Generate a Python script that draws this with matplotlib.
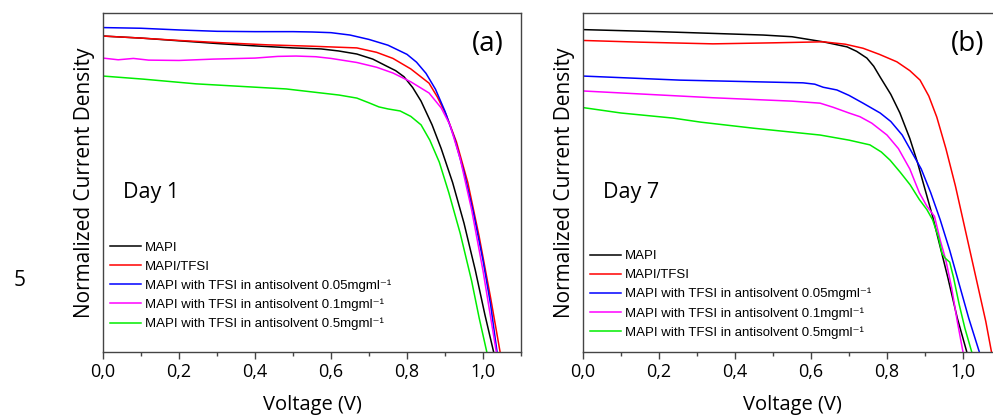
import numpy as np
import matplotlib.pyplot as plt
from matplotlib.ticker import MultipleLocator, FuncFormatter

# J-V curves, normalized current density vs voltage
labels = ['MAPI', 'MAPI/TFSI',
          'MAPI with TFSI in antisolvent 0.05mgml\u207b\u00b9',
          'MAPI with TFSI in antisolvent 0.1mgml\u207b\u00b9',
          'MAPI with TFSI in antisolvent 0.5mgml\u207b\u00b9']
colors = ['black', '#ff0000', '#0000ff', '#ff00ff', '#00ee00']

# Day 1
v1_mapi = [0, 0.1, 0.2, 0.3, 0.4, 0.5, 0.574, 0.62, 0.668, 0.71, 0.745, 0.77, 0.792, 0.815, 0.837, 0.866,
           0.89, 0.92, 0.95, 0.98, 1.005, 1.028]
j1_mapi = [0.932, 0.926, 0.918, 0.910, 0.903, 0.897, 0.894, 0.888, 0.879, 0.864, 0.844, 0.83, 0.812, 0.78, 0.74, 0.670,
           0.60, 0.50, 0.38, 0.24, 0.11, 0.0]
v1_tfsi = [0, 0.1, 0.2, 0.3, 0.434, 0.55, 0.668, 0.72, 0.763, 0.81, 0.858, 0.88, 0.903, 0.93, 0.96, 0.99, 1.02, 1.045]
j1_tfsi = [0.932, 0.926, 0.919, 0.913, 0.906, 0.902, 0.897, 0.884, 0.866, 0.835, 0.793, 0.752, 0.70, 0.62, 0.50, 0.34, 0.16, 0.0]
v1_005 = [0, 0.1, 0.2, 0.3, 0.4, 0.5, 0.55, 0.6, 0.65, 0.7, 0.75, 0.8, 0.825, 0.85, 0.875, 0.9, 0.925, 0.95, 0.975, 1.0,
          1.02, 1.037]
j1_005 = [0.957, 0.955, 0.950, 0.946, 0.945, 0.945, 0.944, 0.942, 0.935, 0.922, 0.905, 0.878, 0.855, 0.822, 0.775, 0.71,
          0.63, 0.53, 0.41, 0.27, 0.14, 0.0]
v1_01 = [0, 0.04, 0.08, 0.12, 0.2, 0.29, 0.4, 0.46, 0.508, 0.56, 0.6, 0.668, 0.72, 0.763, 0.81, 0.858, 0.89, 0.913,
         0.94, 0.97, 1.0, 1.035]
j1_01 = [0.867, 0.862, 0.866, 0.861, 0.860, 0.864, 0.867, 0.872, 0.873, 0.871, 0.866, 0.854, 0.840, 0.823, 0.797, 0.764,
         0.72, 0.670, 0.57, 0.42, 0.24, 0.0]
v1_05 = [0, 0.105, 0.245, 0.482, 0.621, 0.668, 0.7, 0.726, 0.75, 0.782, 0.81, 0.837, 0.86, 0.885, 0.91, 0.94, 0.97, 0.99, 1.01]
j1_05 = [0.814, 0.805, 0.791, 0.776, 0.758, 0.749, 0.735, 0.723, 0.717, 0.711, 0.695, 0.670, 0.625, 0.56, 0.47, 0.35, 0.21,
         0.10, 0.0]

# Day 7
v7_mapi = [0, 0.2, 0.474, 0.55, 0.632, 0.695, 0.72, 0.747, 0.765, 0.782, 0.81, 0.834, 0.86, 0.88, 0.9, 0.92, 0.94, 0.96,
           0.985, 1.01]
j7_mapi = [0.951, 0.945, 0.935, 0.93, 0.915, 0.90, 0.887, 0.867, 0.843, 0.811, 0.76, 0.705, 0.63, 0.56, 0.48, 0.40, 0.31,
           0.22, 0.10, 0.0]
v7_tfsi = [0, 0.15, 0.342, 0.5, 0.632, 0.69, 0.737, 0.78, 0.826, 0.86, 0.887, 0.91, 0.931, 0.955, 0.98, 1.0, 1.02, 1.04,
           1.06, 1.075]
j7_tfsi = [0.919, 0.914, 0.909, 0.912, 0.915, 0.908, 0.896, 0.878, 0.856, 0.83, 0.802, 0.755, 0.693, 0.60, 0.49, 0.39,
           0.29, 0.19, 0.09, 0.0]
v7_005 = [0, 0.255, 0.579, 0.61, 0.632, 0.668, 0.7, 0.737, 0.782, 0.81, 0.84, 0.865, 0.89, 0.915, 0.94, 0.965, 0.99,
          1.015, 1.043]
j7_005 = [0.814, 0.802, 0.794, 0.79, 0.781, 0.773, 0.757, 0.734, 0.705, 0.68, 0.64, 0.59, 0.54, 0.47, 0.39, 0.30, 0.20,
          0.10, 0.0]
v7_01 = [0, 0.342, 0.55, 0.624, 0.658, 0.7, 0.729, 0.76, 0.8, 0.83, 0.86, 0.885, 0.905, 0.925, 0.94, 0.955, 0.97, 0.985, 1.0]
j7_01 = [0.770, 0.750, 0.74, 0.734, 0.722, 0.705, 0.694, 0.675, 0.64, 0.60, 0.54, 0.47, 0.43, 0.40, 0.33, 0.27, 0.19,
         0.09, 0.0]
v7_05 = [0, 0.1, 0.237, 0.31, 0.45, 0.624, 0.7, 0.755, 0.785, 0.808, 0.835, 0.861, 0.885, 0.905, 0.92, 0.935, 0.945,
         0.953, 0.965, 0.975, 0.99, 1.005, 1.023]
j7_05 = [0.721, 0.705, 0.69, 0.678, 0.66, 0.640, 0.625, 0.611, 0.59, 0.566, 0.53, 0.493, 0.45, 0.42, 0.39, 0.34, 0.29,
         0.277, 0.265, 0.22, 0.14, 0.07, 0.0]

day1 = [(v1_mapi, j1_mapi), (v1_tfsi, j1_tfsi), (v1_005, j1_005), (v1_01, j1_01), (v1_05, j1_05)]
day7 = [(v7_mapi, j7_mapi), (v7_tfsi, j7_tfsi), (v7_005, j7_005), (v7_01, j7_01), (v7_05, j7_05)]

plt.rcParams['font.family'] = ['Open Sans', 'DejaVu Sans']

fig = plt.figure(figsize=(9.93, 4.16), dpi=100)
ax1 = fig.add_axes([103/993, 64/416, 418/993, 339/416])
ax2 = fig.add_axes([583/993, 64/416, 418/993, 339/416])

panels = [(ax1, day1, 'Day 1', '(a)', 0.045), (ax2, day7, 'Day 7', '(b)', 0.02)]
for ax, curves, day, tag, leg_y in panels:
    for (v, j), c, lab in zip(curves, colors, labels):
        ax.plot(v, j, color=c, lw=1.1, label=lab)
    ax.set_xlim(0, 1.1)
    ax.set_ylim(0, 1.0)
    ax.xaxis.set_major_locator(MultipleLocator(0.2))
    ax.xaxis.set_minor_locator(MultipleLocator(0.1))
    ax.xaxis.set_major_formatter(FuncFormatter(lambda x, p: f'{x:.1f}'.replace('.', ',')))
    ax.tick_params(axis='x', which='major', direction='out', length=5, width=1, labelsize=13, color='#444444', pad=3)
    ax.tick_params(axis='x', which='minor', direction='out', length=3, width=1, color='#444444')
    ax.set_yticks([])
    for s in ax.spines.values():
        s.set_color('#444444')
        s.set_linewidth(1.0)
    ax.set_xlabel('Voltage (V)', fontsize=14.5, labelpad=10)
    ax.set_ylabel('Normalized Current Density', fontsize=15, labelpad=6)
    ax.text(0.048, 0.47, day, transform=ax.transAxes, fontsize=15.5, va='center')
    ax.text(0.92, 0.91, tag, transform=ax.transAxes, fontsize=20, ha='center', va='center')
    ax.legend(loc='lower left', bbox_to_anchor=(0.0, leg_y), frameon=False,
              prop={'family': ['Liberation Sans', 'DejaVu Sans'], 'size': 9.5}, handlelength=2.35,
              handletextpad=0.35, labelspacing=0.5, borderpad=0.2, borderaxespad=0.3)

fig.text(20/993, 1 - 280/416, '5', fontsize=15, ha='center', va='center')

fig.savefig('out.png', dpi=100)
